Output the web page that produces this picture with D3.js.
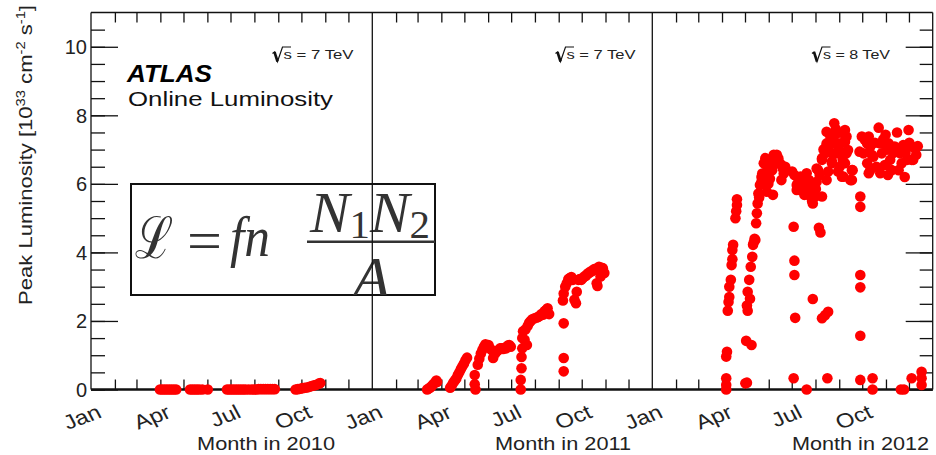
<!DOCTYPE html>
<html><head><meta charset="utf-8">
<script src="https://cdn.jsdelivr.net/npm/d3@7"></script>
<style>
html,body{margin:0;padding:0;background:#fff;}
svg{display:block;font-family:"Liberation Sans",Arial,Helvetica,sans-serif;}
</style></head><body>
<svg id="chart" width="936" height="455"></svg>
<script>
// ---------------- data ----------------
const years = [2010, 2011, 2012];
const energies = ["7 TeV", "7 TeV", "8 TeV"];
const monthLabels = ["Jan", "Apr", "Jul", "Oct"];
const monthLabelIndex = [0, 3, 6, 9];
const yMajorTicks = [0, 2, 4, 6, 8, 10];
const yTickLabels = ["0", "2", "4", "6", "8", "10"];
const xTitles = ["Month in 2010", "Month in 2011", "Month in 2012"];

// peak luminosity [10^33 cm^-2 s^-1] per fill, [MM-DD, value]
const peak2010 = [
["03-31",0.00],["04-03",0.00],["04-06",0.00],["04-09",0.00],["04-12",0.00],["04-15",0.00],["04-18",0.00],["04-21",0.00],
["05-09",0.00],["05-12",0.00],["05-15",0.00],["05-18",0.00],["05-21",0.00],["05-25",0.00],["06-01",0.00],
["06-26",0.00],["06-29",0.00],["07-02",0.00],["07-05",0.00],["07-08",0.00],["07-11",0.00],["07-14",0.00],["07-17",0.00],["07-20",0.00],["07-24",0.00],["07-28",0.00],["07-31",0.00],["08-03",0.00],["08-06",0.01],["08-09",0.01],["08-12",0.01],["08-15",0.01],["08-18",0.01],["08-21",0.01],["08-24",0.01],["08-27",0.01],
["09-23",0.00],["09-26",0.01],["09-29",0.02],["10-02",0.04],["10-05",0.05],["10-08",0.06],["10-11",0.08],["10-14",0.10],["10-17",0.12],["10-20",0.14],["10-23",0.17],["10-25",0.19]
];
const peak2011 = [
["03-13",0.00],["03-15",0.03],["03-17",0.06],["03-19",0.10],["03-21",0.15],["03-23",0.20],["03-25",0.26],["03-26",0.22],
["04-12",0.05],["04-14",0.12],["04-16",0.20],["04-18",0.26],["04-20",0.32],["04-22",0.42],["04-24",0.50],["04-26",0.60],["04-28",0.68],["04-30",0.76],["05-02",0.85],["05-04",0.93],
["05-14",0.42],["05-14",0.15],["05-15",0.00],
["05-18",0.72],["05-20",0.90],["05-22",1.05],["05-24",1.15],["05-26",1.25],["05-28",1.32],["05-30",1.28],["06-01",1.30],["06-03",1.20],["06-05",1.15],["06-07",0.92],["06-08",1.10],["06-10",1.06],["06-12",1.12],["06-14",1.15],["06-16",1.20],["06-18",1.20],["06-20",1.18],["06-22",1.22],["06-24",1.20],["06-26",1.28],["06-28",1.30],["06-30",1.25],
["07-13",0.00],["07-13",0.28],["07-14",0.62],["07-14",0.95],["07-15",1.20],["07-15",1.50],["07-16",1.70],
["07-18",1.45],["07-19",1.75],["07-21",1.30],["07-22",1.85],["07-24",1.95],["07-26",2.00],["07-28",2.05],["07-31",2.08],["08-03",2.10],["08-05",2.12],["08-07",2.15],["08-09",2.20],["08-11",2.18],["08-13",2.28],["08-15",2.32],["08-17",2.37],["08-19",2.20],
["09-07",1.93],["09-07",0.92],["09-07",0.53],
["09-06",2.60],["09-07",2.80],["09-09",3.00],["09-11",3.10],["09-13",3.22],["09-15",3.25],["09-17",3.28],["09-19",3.20],["09-21",2.62],["09-23",2.52],["09-24",2.85],["09-26",3.20],["09-28",3.22],["09-30",3.20],["10-02",3.25],["10-04",3.30],["10-06",3.32],["10-08",3.38],["10-10",3.40],["10-12",3.44],["10-14",3.45],["10-16",3.50],["10-18",3.52],["10-20",3.10],["10-21",3.02],["10-23",3.58],["10-25",3.30],["10-26",3.55],["10-28",3.54],["10-30",3.40]
];
const peak2012 = [
["04-06",0.00],["04-06",0.13],["04-06",0.33],["04-06",0.96],["04-07",1.10],
["04-08",2.30],["04-09",2.55],["04-10",2.70],["04-10",3.00],["04-12",3.20],["04-13",3.63],["04-14",3.80],["04-14",4.07],["04-15",4.22],["04-18",5.00],["04-19",5.20],["04-20",5.38],["04-20",5.55],
["05-01",0.18],["05-03",0.20],["05-02",1.42],["05-09",1.30],
["05-03",2.45],["05-04",2.30],["05-04",2.85],["05-06",3.20],["05-07",2.65],["05-08",3.58],["05-10",3.87],["05-11",4.22],["05-12",4.30],["05-13",4.40],["05-14",4.36],["05-15",4.85],["05-16",5.14],["05-17",5.43],["05-18",5.72],["05-19",5.60],["05-20",5.97],["05-22",6.20],
["05-22",6.06],["05-23",6.30],["05-25",6.60],["05-26",6.30],["05-27",6.75],["05-27",6.02],["05-29",5.77],["05-30",6.50],["05-31",6.45],["05-31",6.00],["06-01",6.70],["06-02",6.55],["06-02",6.15],["06-03",6.60],["06-04",6.65],["06-05",6.40],["06-06",5.68],["06-07",6.85],["06-09",6.79],["06-10",6.60],["06-11",6.85],["06-13",6.75],["06-15",6.60],["06-17",6.55],["06-17",6.11],["06-19",6.45],["06-20",6.30],["06-22",6.50],
["07-01",6.36],["07-04",6.26],["07-07",5.97],["07-07",5.82],["07-09",6.05],["07-11",5.82],["07-12",6.21],["07-13",6.00],["07-16",5.97],["07-17",5.68],["07-19",6.20],["07-20",6.31],["07-20",6.11],["07-22",5.82],["07-22",5.68],["07-23",6.11],["07-25",5.90],["07-27",5.50],["07-28",5.43],["07-30",5.70],["07-31",5.63],["08-01",5.85],["08-02",6.06],["08-02",6.45],["08-06",6.26],["08-09",5.63],
["07-03",0.33],["07-03",4.75],["07-04",3.76],["07-04",3.34],["07-05",2.09],["07-20",0.00],["07-28",2.64],["08-05",4.72],["08-07",4.58],["08-09",2.08],["08-13",2.17],["08-17",2.27],["08-16",0.33],
["08-04",6.40],["08-09",6.70],["08-09",6.75],["08-11",7.00],["08-13",6.89],["08-13",7.04],["08-15",7.18],["08-15",7.52],["08-15",6.11],["08-17",6.36],["08-18",7.10],["08-20",7.43],["08-20",7.38],["08-22",6.60],["08-22",6.89],["08-22",6.65],["08-24",7.30],["08-25",7.77],["08-26",7.18],["08-27",7.60],["08-28",6.89],["08-28",7.47],["08-30",6.36],["08-31",7.00],["09-01",6.50],["09-02",7.18],["09-02",6.89],["09-04",6.21],["09-04",6.89],["09-05",6.70],["09-06",7.47],["09-06",6.21],["09-08",7.23],["09-08",7.57],["09-08",6.60],["09-10",6.89],["09-10",7.38],["09-12",6.99],["09-15",6.11],["09-17",6.40],["09-17",6.11],["09-18",6.40],
["09-27",6.94],["09-28",5.63],["09-28",5.33],["09-28",3.34],["09-28",2.98],["09-28",1.57],["09-28",0.28],
["09-30",7.38],["10-02",6.89],["10-04",7.28],["10-07",6.60],["10-07",7.18],["10-09",7.38],["10-09",6.31],["10-11",6.40],["10-11",7.09],["10-13",6.85],["10-15",6.79],["10-17",7.20],["10-19",6.50],["10-22",7.64],["10-24",7.18],["10-24",6.31],["10-26",6.89],["10-28",7.30],["10-30",6.55],["10-31",7.43],["11-02",7.00],["11-03",6.26],["11-04",7.18],["11-06",6.70],["11-08",6.40],["11-10",6.90],["11-12",7.09],["11-15",7.50],["11-17",6.40],["11-17",7.00],["11-19",6.89],["11-21",6.60],["11-23",7.13],["11-25",6.20],["11-26",6.90],["11-28",6.70],["11-30",7.57],["12-01",7.20],["12-04",7.09],["12-04",6.70],["12-06",6.70],["12-08",7.04],["12-10",6.85],["12-12",7.10],
["10-14",0.33],["10-14",0.00],["11-20",0.00],["11-24",0.00],["12-04",0.33],["12-17",0.52],["12-17",0.33],["12-17",0.13]
];
const peakByYear = [peak2010, peak2011, peak2012];

// ---------------- drawing ----------------
const svg = d3.select("#chart");
const ink = "#111";
const parseDay = (year, md) => { const [m, d] = md.split("-").map(Number); return new Date(year, m - 1, d, 12); };

const x = d3.scaleTime()
  .domain([new Date(2010,0,1), new Date(2011,0,1), new Date(2012,0,1), new Date(2013,0,1)])
  .range([91, 372.3, 652.3, 932.7]);
const y = d3.scaleLinear().domain([0, 11]).range([389.5, 12.5]);
const x0 = x.range()[0], x1 = x.range()[3];

// formula box (behind frame)
const defs = svg.append("defs");
defs.append("clipPath").attr("id", "fbox").append("rect")
  .attr("x", 131).attr("y", 184).attr("width", 304).attr("height", 111);
const fb = svg.append("g");
fb.append("rect").attr("x", 131).attr("y", 184).attr("width", 304).attr("height", 111)
  .attr("fill", "#fff").attr("stroke", ink).attr("stroke-width", 2);
const fg = fb.append("g").attr("clip-path", "url(#fbox)").attr("fill", "#333")
  .style("font-family", "'Liberation Serif','DejaVu Serif',serif");
fg.append("text").attr("x", 135).attr("y", 258).attr("font-size", 58)
  .attr("textLength", 38).attr("lengthAdjust", "spacingAndGlyphs").text("\u2112");
fg.append("text").attr("x", 187).attr("y", 260).attr("font-size", 56)
  .attr("textLength", 35).attr("lengthAdjust", "spacingAndGlyphs").text("=");
fg.append("text").attr("x", 230).attr("y", 256).attr("font-size", 56).attr("font-style", "italic")
  .attr("textLength", 40).attr("lengthAdjust", "spacingAndGlyphs").text("fn");
const nt = fg.append("text").attr("x", 310).attr("y", 232).attr("font-size", 58).attr("font-style", "italic")
  .attr("textLength", 120).attr("lengthAdjust", "spacingAndGlyphs");
nt.append("tspan").text("N");
nt.append("tspan").attr("font-size", 40).attr("font-style", "normal").attr("dy", 6).text("1");
nt.append("tspan").attr("dy", -6).text("N");
nt.append("tspan").attr("font-size", 40).attr("font-style", "normal").attr("dy", 6).text("2");
fg.append("line").attr("x1", 307).attr("x2", 440).attr("y1", 241.7).attr("y2", 241.7)
  .attr("stroke", "#333").attr("stroke-width", 2.5);
fg.append("text").attr("x", 353).attr("y", 297).attr("font-size", 58).attr("font-style", "italic")
  .attr("textLength", 37).attr("lengthAdjust", "spacingAndGlyphs").text("A");

// frame
const frame = svg.append("g").attr("stroke", ink).attr("fill", "none");
frame.append("line").attr("x1", x0).attr("x2", x1).attr("y1", y(11)).attr("y2", y(11)).attr("stroke-width", 1.3);
frame.append("line").attr("x1", x0).attr("x2", x0).attr("y1", y(11)).attr("y2", y(0)).attr("stroke-width", 1.3);
frame.append("line").attr("x1", x1).attr("x2", x1).attr("y1", y(11)).attr("y2", y(0)).attr("stroke-width", 1.3);
[new Date(2011,0,1), new Date(2012,0,1)].forEach(d => {
  frame.append("line").attr("x1", x(d)).attr("x2", x(d)).attr("y1", y(11)).attr("y2", y(0)).attr("stroke-width", 1.3);
});

// month ticks
const monthTicks = d3.timeMonth.range(new Date(2010,0,1), new Date(2013,0,1)).filter(d => d.getMonth() !== 0);
const topAx = svg.append("g").attr("transform", `translate(0,${y(11)})`)
  .call(d3.axisBottom(x).tickValues(monthTicks).tickSize(10).tickFormat(""));
const botAx = svg.append("g").attr("transform", `translate(0,${y(0)})`)
  .call(d3.axisTop(x).tickValues(monthTicks).tickSize(10).tickFormat(""));
[topAx, botAx].forEach(g => { g.select(".domain").remove(); g.selectAll("line").attr("stroke", ink).attr("stroke-width", 1.3); });

// y ticks (both sides)
const minorVals = d3.range(0, 10.75, 0.5);
const yAxes = [
  svg.append("g").attr("transform", `translate(${x0},0)`).call(d3.axisRight(y).tickValues(minorVals).tickSize(14).tickFormat("")),
  svg.append("g").attr("transform", `translate(${x0},0)`).call(d3.axisRight(y).tickValues(yMajorTicks).tickSize(27).tickFormat("")),
  svg.append("g").attr("transform", `translate(${x1},0)`).call(d3.axisLeft(y).tickValues(minorVals).tickSize(13).tickFormat("")),
  svg.append("g").attr("transform", `translate(${x1},0)`).call(d3.axisLeft(y).tickValues(yMajorTicks).tickSize(27).tickFormat(""))
];
yAxes.forEach(g => { g.select(".domain").remove(); g.selectAll("line").attr("stroke", ink).attr("stroke-width", 1.3); });

// bottom axis line (thicker)
svg.append("line").attr("x1", x0).attr("x2", x1).attr("y1", y(0)).attr("y2", y(0))
  .attr("stroke", ink).attr("stroke-width", 2.4);

// y tick labels
svg.append("g").selectAll("text").data(yMajorTicks).join("text")
  .attr("x", 87).attr("y", d => y(d)).attr("dy", "0.36em")
  .attr("text-anchor", "end").attr("font-size", 20).attr("fill", "#222")
  .text((d, i) => yTickLabels[i]);

// y title
const yt = svg.append("text").attr("transform", "translate(31.5,305) rotate(-90)")
  .attr("font-size", 18).attr("fill", "#222")
  .attr("textLength", 300).attr("lengthAdjust", "spacingAndGlyphs");
yt.append("tspan").text("Peak Luminosity [10");
yt.append("tspan").attr("font-size", 12).attr("dy", -7).text("33");
yt.append("tspan").attr("dy", 7).text(" cm");
yt.append("tspan").attr("font-size", 12).attr("dy", -7).text("-2");
yt.append("tspan").attr("dy", 7).text(" s");
yt.append("tspan").attr("font-size", 12).attr("dy", -7).text("-1");
yt.append("tspan").attr("dy", 7).text("]");

// month labels (rotated)
years.forEach(yr => {
  monthLabelIndex.forEach((m, i) => {
    const tx = x(new Date(yr, m, 1));
    svg.append("text").attr("transform", `translate(${tx + 12},417) scale(1.2,1) rotate(-24)`)
      .attr("text-anchor", "end").attr("font-size", 20).attr("fill", "#222").text(monthLabels[i]);
  });
});

// x titles
const titleStart = [197, 495, 792];
const titleLen = [138, 136, 137];
years.forEach((yr, i) => {
  svg.append("text").attr("x", titleStart[i]).attr("y", 450).attr("font-size", 19).attr("fill", "#222")
    .attr("textLength", titleLen[i]).attr("lengthAdjust", "spacingAndGlyphs").text(xTitles[i]);
});

// sqrt(s) labels
const sStart = [283.5, 566.5, 823];
const sLen = [70, 69, 67];
years.forEach((yr, i) => {
  const xs = sStart[i];
  const g = svg.append("g");
  g.append("path").attr("d", `M${xs-11},53.5 L${xs-9},52 L${xs-6},61.5 L${xs-1},47 L${xs+7.5},47`)
    .attr("fill", "none").attr("stroke", ink).attr("stroke-width", 1.2);
  g.append("path").attr("d", `M${xs-9},52 L${xs-6},61.5`).attr("stroke", ink).attr("stroke-width", 2.6);
  g.append("text").attr("x", xs).attr("y", 58.5).attr("font-size", 13).attr("fill", "#222")
    .attr("textLength", sLen[i]).attr("lengthAdjust", "spacingAndGlyphs").text("s = " + energies[i]);
});

// ATLAS label
svg.append("text").attr("x", 127).attr("y", 81.7).attr("font-size", 23).attr("font-weight", "bold")
  .attr("font-style", "italic").attr("fill", "#000")
  .attr("textLength", 85).attr("lengthAdjust", "spacingAndGlyphs").text("ATLAS");
svg.append("text").attr("x", 128).attr("y", 105.5).attr("font-size", 20).attr("fill", "#111")
  .attr("textLength", 205).attr("lengthAdjust", "spacingAndGlyphs").text("Online Luminosity");

// points
const pts = [];
years.forEach((yr, i) => peakByYear[i].forEach(p => pts.push({ date: parseDay(yr, p[0]), v: p[1] })));
svg.append("g").attr("fill", "#ff0000").selectAll("circle").data(pts).join("circle")
  .attr("cx", d => x(d.date)).attr("cy", d => y(d.v)).attr("r", 5.3);
</script>
</body></html>
